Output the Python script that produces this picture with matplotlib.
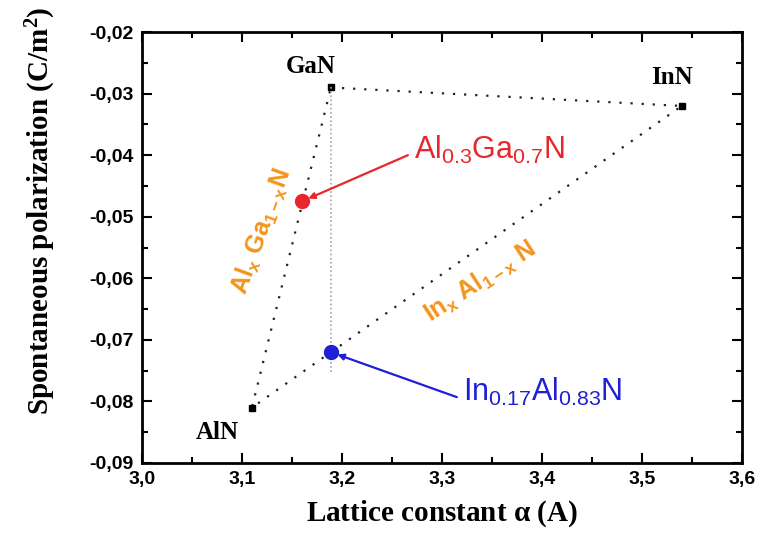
import matplotlib.pyplot as plt
from matplotlib.ticker import FuncFormatter, MultipleLocator

plt.rcParams['mathtext.default'] = 'regular'

# binary nitrides: lattice constant (A) and spontaneous polarization (C/m2)
names = ['GaN', 'InN', 'AlN']
lattice = [3.189, 3.54, 3.11]
polar = [-0.029, -0.032, -0.081]

# ternary alloys marked on the plot
alloy_x = [3.16, 3.189]
alloy_y = [-0.0475, -0.072]
alloy_labels = [r'Al$_{0.3}$Ga$_{0.7}$N', r'In$_{0.17}$Al$_{0.83}$N']
alloy_colors = ['#e8262b', '#1f1fd6']
alloy_text_pos = [(3.272, -0.0392), (3.321, -0.0785)]

orange = '#f3941c'

fig = plt.figure(figsize=(7.61, 5.40), dpi=100)
ax = fig.add_axes([0.1866, 0.1426, 0.788, 0.798])

# triangle edges between the binaries
tri = [0, 1, 2, 0]
ax.plot([lattice[i] for i in tri], [polar[i] for i in tri],
        color='#222222', linestyle=(0, (1, 4)), linewidth=1.6)
ax.plot(lattice, polar, 's', color='black', markersize=5)

# vertical line at GaN lattice constant
ax.plot([lattice[0], lattice[0]], [polar[0], -0.0752],
        color='#9aa3b8', linestyle=(0, (1, 1.5)), linewidth=1.2)

lab_kw = dict(family='Liberation Serif', fontweight='bold', fontsize=18)
ax.text(lattice[0] - 0.02, polar[0] + 0.0015, names[0], ha='center', va='bottom', **lab_kw)
ax.text(lattice[1] - 0.01, polar[1] + 0.0028, names[1], ha='center', va='bottom', **lab_kw)
ax.text(lattice[2] - 0.035, polar[2] - 0.0022, names[2], ha='center', va='top', **lab_kw)

for x, y, lab, c, (tx, ty) in zip(alloy_x, alloy_y, alloy_labels, alloy_colors, alloy_text_pos):
    ax.plot(x, y, 'o', color=c, markersize=10)
    ax.annotate('', xy=(x, y), xytext=(tx - 0.006, ty - 0.0008),
                arrowprops=dict(arrowstyle='-|>', color=c, lw=1.6, mutation_scale=9,
                                shrinkA=0, shrinkB=5))
    ax.text(tx, ty, lab, color=c, ha='left', va='center',
            family='Liberation Sans', fontsize=22)

ax.text(3.12, -0.0524, r'Al$_x$ Ga$_{1-x}$N', color=orange,
        rotation=70, ha='center', va='center', family='Liberation Sans',
        fontweight='bold', fontsize=18)
ax.text(3.338, -0.0605, r'In$_x$ Al$_{1-x}$ N', color=orange,
        rotation=33, ha='center', va='center', family='Liberation Sans',
        fontweight='bold', fontsize=18)

ax.set_xlim(3.0, 3.6)
ax.set_ylim(-0.09, -0.02)
ax.xaxis.set_major_locator(MultipleLocator(0.1))
ax.xaxis.set_minor_locator(MultipleLocator(0.05))
ax.yaxis.set_major_locator(MultipleLocator(0.01))
ax.yaxis.set_minor_locator(MultipleLocator(0.005))
ax.xaxis.set_major_formatter(FuncFormatter(lambda v, p: f'{v:.1f}'.replace('.', ',')))
ax.yaxis.set_major_formatter(FuncFormatter(lambda v, p: f'{v:.2f}'.replace('.', ',')))

ax.tick_params(which='both', direction='in', top=True, right=True, width=1.5)
ax.tick_params(which='major', length=7, labelsize=14, pad=6)
ax.tick_params(which='minor', length=4)
for lab in ax.get_xticklabels() + ax.get_yticklabels():
    lab.set_family('Liberation Sans')
    lab.set_fontweight('bold')
for s in ax.spines.values():
    s.set_linewidth(2)

ax.set_xlabel(r'Lattice constant $\alpha$ (A)', family='Liberation Serif',
              fontweight='bold', fontsize=21, labelpad=7)
ax.set_ylabel(r'Spontaneous polarization (C/m$^2$)', family='Liberation Serif',
              fontweight='bold', fontsize=21)
ax.yaxis.set_label_coords(-0.14, 0.585)

fig.savefig('out.png', dpi=100)
